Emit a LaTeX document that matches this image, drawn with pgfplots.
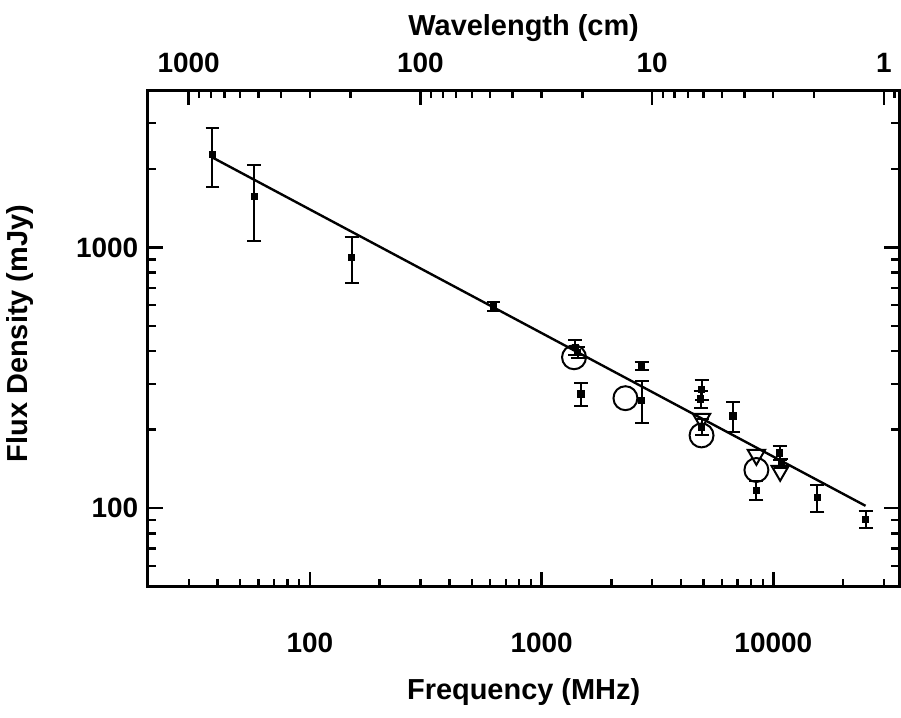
\documentclass[border=0pt]{standalone}
\usepackage{pgfplots}
\pgfplotsset{compat=1.18}
\usepackage{fontspec}
\setmainfont{Liberation Sans}

\begin{document}
\begin{tikzpicture}
\begin{axis}[
  width=376.5pt, height=248.5pt, scale only axis,
  xmode=log, ymode=log, xmin=20, xmax=35000, ymin=50, ymax=4000,
  tick align=inside,
  major tick length=7.5pt, minor tick length=4pt,
  every tick/.style={line width=1.2pt, black},
  axis line style={line width=1.6pt},
  every tick label/.append style={font=\bfseries\fontsize{14}{16}\selectfont},
  every axis label/.append style={font=\bfseries\fontsize{14.5}{17}\selectfont},
  xtick pos=bottom,
  xtick={100,1000,10000}, xticklabels={100,1000,10000},
  minor xtick={20,30,40,50,60,70,80,90,200,300,400,500,600,700,800,900,2000,3000,4000,5000,6000,7000,8000,9000,20000,30000},
  ytick={100,1000}, yticklabels={100,1000},
  minor ytick={50,60,70,80,90,200,300,400,500,600,700,800,900,2000,3000,4000},
  xticklabel shift=19.5pt,
  yticklabel shift=1.3pt,
  xlabel={Frequency (MHz)},
  ylabel={Flux Density (mJy)},
  xlabel style={at={(axis description cs:0.5,-0.213)}, anchor=center, inner ysep=6pt},
  ylabel style={at={(axis description cs:-0.170,0.51)}, anchor=center},
  clip=false,
]
\addplot[black, line width=1.2pt] coordinates {(38,2213) (25000,102)};
\addplot[only marks, mark=square*, mark size=1.6pt, black,
  error bars/.cd, y dir=both, y explicit,
  error bar style={line width=1pt, black},
  error mark options={rotate=90, mark size=3.5pt, line width=1pt, black}]
  coordinates {
  (38,2280) +- (0,580)
  (57.5,1570) +- (0,510)
  (151.5,915) +- (0,185)
  (620,593) +- (0,22)
  (1400,414) +- (0,26)
  (1430,396) +- (0,20)
  (1480,274) +- (0,28)
  (2700,352) +- (0,12)
  (2700,259) +- (0,47)
  (4900,285) +- (0,26)
  (4850,262) +- (0,20)
  (4900,205) +- (0,15)
  (6700,226) +- (0,30)
  (8450,117) +- (0,10)
  (10650,163) +- (0,10)
  (10800,148) +- (0,6)
  (15500,110) +- (0,13)
  (25000,90.6) +- (0,7)
  };
\addplot[only marks, mark=o, mark size=6pt, black, mark options={line width=1pt}]
  coordinates {(1380,379) (2300,264) (4900,190) (8450,140)};
\addplot[only marks, mark=triangle, mark size=5pt, black, mark options={line width=1pt, rotate=180}]
  coordinates {(4900,220) (8450,160) (10700,139)};
\end{axis}
\begin{axis}[
  width=376.5pt, height=248.5pt, scale only axis,
  xmode=log, ymode=log, xmin=20, xmax=35000, ymin=50, ymax=4000,
  tick align=inside,
  major tick length=7.5pt, minor tick length=4pt,
  every tick/.style={line width=1.2pt, black},
  axis line style={line width=1.6pt},
  every tick label/.append style={font=\bfseries\fontsize{14}{16}\selectfont},
  every axis label/.append style={font=\bfseries\fontsize{14.5}{17}\selectfont},
  axis x line*=top, axis y line=none,
  xtick={29.979,299.79,2997.9,29979}, xticklabels={1000,100,10,1},
  minor xtick={33.31,37.47,42.83,49.97,59.96,74.95,99.93,149.9,333.1,374.7,428.3,499.7,599.6,749.5,999.3,1499,3331,3747,4283,4997,5996,7495,9993,14990,33310},
  ytick=\empty,
  xticklabel shift=5.3pt,
  xlabel={Wavelength (cm)},
  xlabel style={at={(axis description cs:0.5,1.125)}, anchor=center, inner ysep=7.5pt},
]
\end{axis}
\end{tikzpicture}
\end{document}
